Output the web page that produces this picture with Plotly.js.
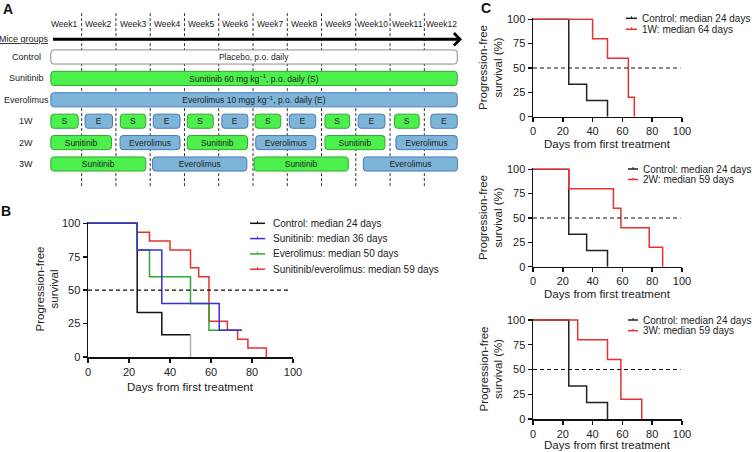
<!DOCTYPE html>
<html><head><meta charset="utf-8">
<script src="https://cdn.plot.ly/plotly-3.0.1.min.js"></script>
<style>html,body{margin:0;padding:0;background:#fff}#chart{width:752px;height:452px}</style>
</head><body><div id="chart"></div>
<script>
// ---------------- DATA ----------------
// Panel A: treatment schedule (weeks)
const weekLabels = ['Week1','Week2','Week3','Week4','Week5','Week6','Week7','Week8','Week9','Week10','Week11','Week12'];
const groups = ['Control','Sunitinib','Everolimus','1W','2W','3W'];
const placeboRow = [0];
const placeboStart = [0.1];
const placeboDur = [11.86];
const placeboText = ['Placebo, p.o. daily'];
const suniRow = [1, 3,3,3,3,3,3, 4,4,4, 5,5];
const suniStart = [0.1, 0.1,2.13,4.08,6.06,8.1,10.13, 0.1,4.08,8.1, 0.1,6.03];
const suniDur = [11.86, 0.8,0.74,0.76,0.75,0.72,0.72, 1.77,1.76,1.75, 2.77,2.75];
const suniText = ['Sunitinib 60 mg kg<sup>−1</sup>, p.o. daily (S)','S','S','S','S','S','S','Sunitinib','Sunitinib','Sunitinib','Sunitinib','Sunitinib'];
const everoRow = [2, 3,3,3,3,3,3, 4,4,4, 5,5];
const everoStart = [0.1, 1.1,3.09,5.09,7.06,9.07,11.19, 2.12,6.08,10.17, 3.07,9.22];
const everoDur = [11.86, 0.8,0.78,0.76,0.77,0.78,0.77, 1.75,1.75,1.79, 2.75,2.75];
const everoText = ['Everolimus 10 mgg kg<sup>−1</sup>, p.o. daily (E)','E','E','E','E','E','E','Everolimus','Everolimus','Everolimus','Everolimus','Everolimus'];

// Axis ticks
const dayTicks = [0,20,40,60,80,100];
const pfsTicks = [0,25,50,75,100];

// Panel B: Kaplan-Meier (days, % progression-free)
const ctrlDays = [0,24,36,50];         const ctrlPFS = [100,33.3,16.7,0];
const suniDays = [0,24,36,64,75];      const suniPFS = [100,80,40,20,20];
const everoDays = [0,24,30,50,59,75];  const everoPFS = [100,80,60,40,20,20];
const comboDays = [0,24,30,40,50,54,59,68,73,78,87];
const comboPFS  = [100,93.3,86.7,80,66.7,60,26.7,20,13.3,6.7,0];
const bNames = ['Control: median 24 days','Sunitinib: median 36 days','Everolimus: median 50 days','Sunitinib/everolimus: median 59 days'];

// Panel C
const w1Days = [0,40,50,64,68];        const w1PFS = [100,80,60,20,0];
const w2Days = [0,24,54,59,78,87];     const w2PFS = [100,80,60,40,20,0];
const w3Days = [0,30,50,59,73];        const w3PFS = [100,80,60,20,0];
const c1Names = ['Control: median 24 days','1W: median 64 days'];
const c2Names = ['Control: median 24 days','2W: median 59 days'];
const c3Names = ['Control: median 24 days','3W: median 59 days'];

// ---------------- STYLE / LAYOUT ----------------
const W = 752, H = 452;
const px = x => x / W, py = y => 1 - y / H;
const FONT = 'Arial, "Liberation Sans", sans-serif';
const BLACK = '#111', RED = '#e8312f', BLUE = '#3a2fd8', GREEN = '#2fa82f', GREY = '#b0b0b0';
const GFILL = '#4cf04c', GLINE = '#35a535', BFILL = '#7db5d8', BLINE = '#4a79bd';

const traces = [];
const shapes = [];
const annotations = [];
function ann(o) {
  annotations.push(Object.assign({showarrow:false, xanchor:'center', yanchor:'middle'}, o));
}

// Panel A bars
function barTrace(rows, start, dur, text, fill, line) {
  return {type:'bar', orientation:'h', xaxis:'x2', yaxis:'y2', y:rows, x:dur, base:start,
    width:0.66, text:text, textposition:'inside', insidetextanchor:'middle', textangle:0,
    constraintext:'none', textfont:{family:FONT, size:8.5, color:'#222'},
    marker:{color:fill, line:{color:line, width:1}, cornerradius:3},
    hoverinfo:'skip', showlegend:false};
}
traces.push(barTrace(placeboRow, placeboStart, placeboDur, placeboText, '#ffffff', '#8a8a8a'));
traces.push(barTrace(suniRow, suniStart, suniDur, suniText, GFILL, GLINE));
traces.push(barTrace(everoRow, everoStart, everoDur, everoText, BFILL, BLINE));

for (let k = 1; k < weekLabels.length; k++) {
  shapes.push({type:'line', xref:'x2', yref:'y2', x0:k, x1:k, y0:-2.05, y1:6.1, layer:'below',
    line:{color:'#333', width:1, dash:'3px,2px'}});
}
weekLabels.forEach((w, i) => ann({xref:'x2', yref:'y2', x:i+0.5, y:-1.53, text:w,
  font:{family:FONT, size:8.5, color:'#222'}}));
groups.forEach((g, i) => ann({xref:'paper', yref:'y2', x:px(26), y:i, text:g,
  font:{family:FONT, size:9, color:'#222'}}));
ann({xref:'paper', yref:'y2', x:px(24), y:-0.83, text:'<u>Mice groups</u>',
  font:{family:FONT, size:9, color:'#222'}});
annotations.push({xref:'x2', yref:'y2', axref:'x2', ayref:'y2', x:12.1, y:-0.83, ax:0.12, ay:-0.83,
  text:'', showarrow:true, arrowhead:4, arrowsize:0.8, arrowwidth:3, arrowcolor:'#000', standoff:0});

// Step curves
function km(days, pfs, color, xa, ya, width) {
  return {type:'scatter', mode:'lines', x:days, y:pfs, xaxis:xa, yaxis:ya,
    line:{shape:'hv', color:color, width:width || 1.5}, hoverinfo:'skip', showlegend:false};
}
// Panel B (control ends with grey final drop)
const n = ctrlDays.length;
traces.push(km(ctrlDays.slice(0, n-1).concat([ctrlDays[n-1]]), ctrlPFS.slice(0, n-1).concat([ctrlPFS[n-2]]), BLACK, 'x', 'y'));
traces.push(km([ctrlDays[n-1], ctrlDays[n-1]], [ctrlPFS[n-2], ctrlPFS[n-1]], GREY, 'x', 'y'));
traces.push(km(comboDays, comboPFS, RED, 'x', 'y'));
traces.push(km(everoDays, everoPFS, GREEN, 'x', 'y'));
traces.push(km(suniDays, suniPFS, BLUE, 'x', 'y'));
// Panel C
[['x3','y3',w1Days,w1PFS],['x4','y4',w2Days,w2PFS],['x5','y5',w3Days,w3PFS]].forEach(([xa,ya,d,p]) => {
  traces.push(km(ctrlDays, ctrlPFS, '#222', xa, ya));
  traces.push(km(d, p, RED, xa, ya));
});

// Axes
function kmAxes(xdom, ydom) {
  const common = {showline:true, linecolor:'#111', linewidth:1.5, ticks:'outside', tickwidth:1.5,
    ticklen:4, tickcolor:'#111', showgrid:false, zeroline:false, fixedrange:true,
    tickfont:{family:FONT, size:11, color:'#222'}};
  return [Object.assign({}, common, {domain:xdom, range:[0,100], tickvals:dayTicks}),
          Object.assign({}, common, {domain:ydom, range:[0,101], tickvals:pfsTicks})];
}
const [xB, yB] = kmAxes([px(88), px(293)], [py(357), py(222)]);
const [xC1, yC1] = kmAxes([px(533), px(682)], [py(116.7), py(18.3)]);
const [xC2, yC2] = kmAxes([px(533), px(682)], [py(266.7), py(168.3)]);
const [xC3, yC3] = kmAxes([px(533), px(682)], [py(419), py(319)]);
yB.anchor='x'; xB.anchor='y';
xC1.anchor='y3'; yC1.anchor='x3';
xC2.anchor='y4'; yC2.anchor='x4';
xC3.anchor='y5'; yC3.anchor='x5';

// dashed 50% lines
[['x','y'],['x3','y3'],['x4','y4'],['x5','y5']].forEach(([xa,ya]) => shapes.push({type:'line',
  xref:xa, yref:ya, x0:0, x1:99, y0:50, y1:50, line:{color:'#111', width:1.2, dash:'4px,3px'}}));

// Axis titles
[[190.5, 386.7],[607.5, 144],[607.5, 294],[607.5, 445]].forEach(([cx, cy]) =>
  ann({xref:'paper', yref:'paper', x:px(cx), y:py(cy), text:'Days from first treatment',
    font:{family:FONT, size:11.5, color:'#222'}}));
ann({xref:'paper', yref:'paper', x:px(47), y:py(289.5), text:'Progression-free<br>survival',
  textangle:-90, font:{family:FONT, size:11.5, color:'#222'}});
[67.5, 217.5, 369].forEach(cy => ann({xref:'paper', yref:'paper', x:px(490.5), y:py(cy),
  text:'Progression-free<br>survival (%)', textangle:-90, font:{family:FONT, size:11.5, color:'#222'}}));

// Custom legends
function legend(names, colors, gx0, gx1, tx, y0, dy) {
  names.forEach((nm, i) => {
    const y = y0 + i*dy;
    shapes.push({type:'line', xref:'paper', yref:'paper', x0:px(gx0), x1:px(gx1), y0:py(y), y1:py(y),
      line:{color:colors[i], width:1.5}});
    shapes.push({type:'line', xref:'paper', yref:'paper', x0:px((gx0+gx1)/2), x1:px((gx0+gx1)/2),
      y0:py(y-2), y1:py(y), line:{color:colors[i], width:1}});
    ann({xref:'paper', yref:'paper', x:px(tx), y:py(y), xanchor:'left', text:nm,
      font:{family:FONT, size:10, color:'#222'}});
  });
}
legend(bNames, [BLACK, BLUE, GREEN, RED], 250, 265, 271, 223.3, 15.3);
legend(c1Names, ['#222', RED], 626, 637, 640, 18.3, 11);
legend(c2Names, ['#222', RED], 628, 638, 641, 169, 10.5);
legend(c3Names, ['#222', RED], 628, 638, 641, 320, 10.7);

// Panel letters
[['A',8,9],['B',6,211],['C',486,8]].forEach(([t,x,y]) => ann({xref:'paper', yref:'paper',
  x:px(x), y:py(y), text:'<b>'+t+'</b>', font:{family:FONT, size:14, color:'#111'}}));

const layout = {
  width:W, height:H, margin:{l:0, r:0, t:0, b:0}, paper_bgcolor:'#fff', plot_bgcolor:'rgba(0,0,0,0)',
  showlegend:false, barmode:'overlay', font:{family:FONT},
  xaxis:xB, yaxis:yB,
  xaxis2:{domain:[px(47.4), px(458.6)], range:[0,12], visible:false, fixedrange:true, anchor:'y2'},
  yaxis2:{domain:[py(190), py(13)], range:[6.215,-2.056], visible:false, fixedrange:true, anchor:'x2'},
  xaxis3:xC1, yaxis3:yC1, xaxis4:xC2, yaxis4:yC2, xaxis5:xC3, yaxis5:yC3,
  shapes:shapes, annotations:annotations
};
Plotly.newPlot('chart', traces, layout, {displayModeBar:false, staticPlot:true});
</script></body></html>
